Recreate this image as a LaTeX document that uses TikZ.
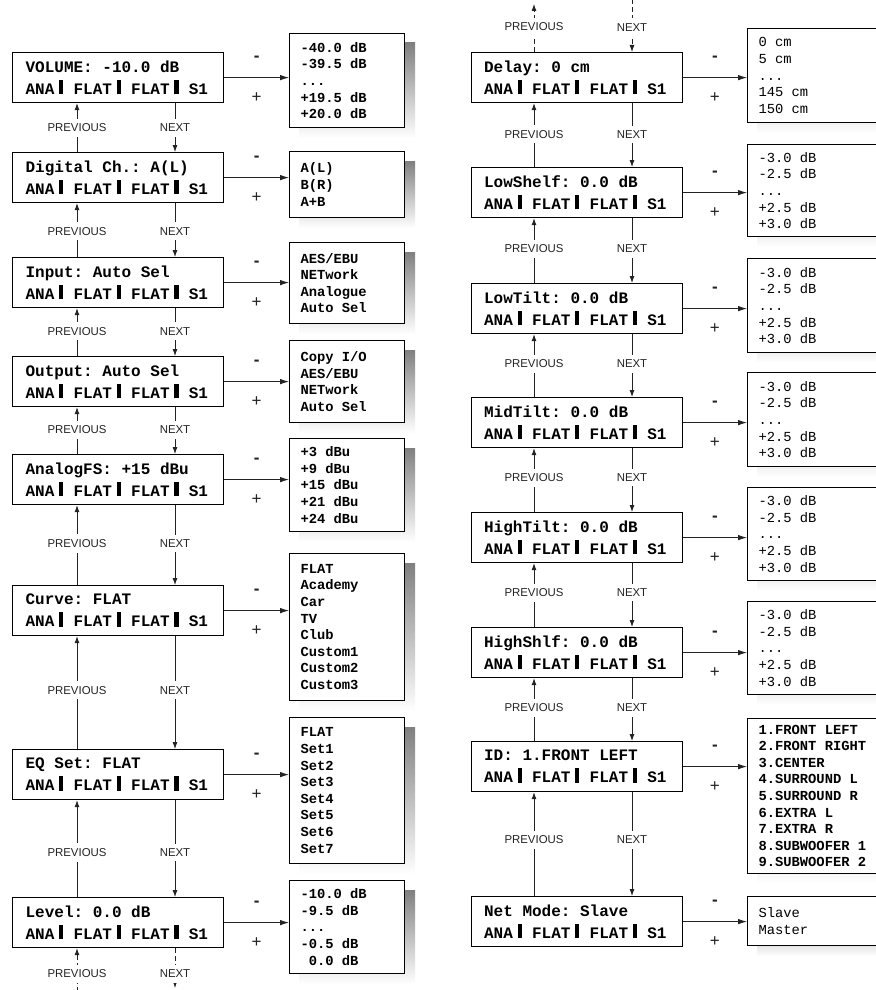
\documentclass[tikz,border=0pt]{standalone}
\usepackage{fontspec}
\usetikzlibrary{arrows.meta,backgrounds,calc}
\newfontfamily\lcdfont{Liberation Mono}[WordSpace={1,0,0},PunctuationSpace=WordSpace]
\newfontfamily\lblfont{Liberation Sans}
\newcommand\monospaces{\frenchspacing\spaceskip=0.6em\relax\xspaceskip=0.6em\relax}
\newcommand\lcdbar{\makebox[0.6em][r]{\rule{0.26em}{0.9em}\hspace{0.04em}}}
\newcommand\lcdline{ANA\lcdbar\ FLAT\lcdbar\ FLAT\lcdbar\ S1}
\definecolor{shade}{RGB}{224,224,224}
\definecolor{ink}{RGB}{35,35,35}
\begin{document}
\begin{tikzpicture}[x=1pt,y=-1pt,
  disp/.style={draw=black, line width=1.2pt, fill=white, anchor=north west,
    minimum width=211pt, minimum height=50pt, text width=185pt,
    inner xsep=13pt, inner ysep=0pt, align=left,
    font=\lcdfont\bfseries\fontsize{16}{22}\selectfont,
    execute at begin node=\monospaces},
  opt/.style={draw=black, line width=1pt, fill=white, anchor=north west,
    inner xsep=11pt, inner ysep=0pt, align=left,
    font=\lcdfont\fontsize{13.8}{16.6}\selectfont,
    execute at begin node=\monospaces},
  optL/.style={opt, minimum width=115pt, text width=93pt,
    font=\lcdfont\bfseries\fontsize{13.8}{16.6}\selectfont},
  optR/.style={opt, minimum width=145pt, text width=123pt},
  optRB/.style={optR, font=\lcdfont\bfseries\fontsize{13.8}{16.6}\selectfont},
  navlbl/.style={fill=white, inner xsep=1pt, inner ysep=5pt, text=ink,
    font=\lblfont\fontsize{11.4}{12}\selectfont},
  pm/.style={text=ink, inner sep=0pt, font=\lblfont\fontsize{17}{17}\selectfont},
  nav/.style={draw=ink, line width=0.8pt, -{Latex[length=7pt,width=5pt]}},
  hnav/.style={draw=ink, line width=0.8pt, -{Latex[length=9pt,width=5.5pt]}},
  dsh/.style={dash pattern=on 5pt off 3pt}
]
\useasboundingbox (0,0) rectangle (875,990);

% ---------- left column: displays ----------
\node[disp] (d1) at (12,52)  {VOLUME: -10.0 dB\\\lcdline};
\node[disp] (d2) at (12,152) {Digital Ch.: A(L)\\\lcdline};
\node[disp] (d3) at (12,257) {Input: Auto Sel\\\lcdline};
\node[disp] (d4) at (12,356) {Output: Auto Sel\\\lcdline};
\node[disp] (d5) at (12,454) {AnalogFS: +15 dBu\\\lcdline};
\node[disp] (d6) at (12,585) {Curve: FLAT\\\lcdline};
\node[disp] (d7) at (12,749) {EQ Set: FLAT\\\lcdline};
\node[disp] (d8) at (12,897) {Level: 0.0 dB\\\lcdline};

% ---------- left column: option lists ----------
\node[optL, minimum height=94pt]  (o1) at (289,33)  {-40.0 dB\\-39.5 dB\\...\\+19.5 dB\\+20.0 dB};
\node[optL, minimum height=66pt]  (o2) at (289,151) {A(L)\\B(R)\\A+B};
\node[optL, minimum height=81pt]  (o3) at (289,242) {AES/EBU\\NETwork\\Analogue\\Auto Sel};
\node[optL, minimum height=82pt]  (o4) at (289,340) {Copy I/O\\AES/EBU\\NETwork\\Auto Sel};
\node[optL, minimum height=93pt]  (o5) at (289,438) {+3 dBu\\+9 dBu\\+15 dBu\\+21 dBu\\+24 dBu};
\node[optL, minimum height=147pt] (o6) at (289,553) {FLAT\\Academy\\Car\\TV\\Club\\Custom1\\Custom2\\Custom3};
\node[optL, minimum height=146pt] (o7) at (289,717) {FLAT\\Set1\\Set2\\Set3\\Set4\\Set5\\Set6\\Set7};
\node[optL, minimum height=93pt]  (o8) at (289,880) {-10.0 dB\\-9.5 dB\\...\\-0.5 dB\\\hphantom{-}0.0 dB};

% ---------- right column: displays ----------
\node[disp] (r1) at (470.5,52)  {Delay: 0 cm\\\lcdline};
\node[disp] (r2) at (470.5,167) {LowShelf: 0.0 dB\\\lcdline};
\node[disp] (r3) at (470.5,283) {LowTilt: 0.0 dB\\\lcdline};
\node[disp] (r4) at (470.5,397) {MidTilt: 0.0 dB\\\lcdline};
\node[disp] (r5) at (470.5,512) {HighTilt: 0.0 dB\\\lcdline};
\node[disp] (r6) at (470.5,627) {HighShlf: 0.0 dB\\\lcdline};
\node[disp] (r7) at (470.5,741) {ID: 1.FRONT LEFT\\\lcdline};
\node[disp] (r8) at (470.5,896) {Net Mode: Slave\\\lcdline};

% ---------- right column: option lists ----------
\node[optR, minimum height=94pt]   (p1) at (747,28)  {0 cm\\5 cm\\...\\145 cm\\150 cm};
\node[optR, minimum height=92pt]   (p2) at (747,144) {-3.0 dB\\-2.5 dB\\...\\+2.5 dB\\+3.0 dB};
\node[optR, minimum height=94pt]   (p3) at (747,258) {-3.0 dB\\-2.5 dB\\...\\+2.5 dB\\+3.0 dB};
\node[optR, minimum height=94pt]   (p4) at (747,372) {-3.0 dB\\-2.5 dB\\...\\+2.5 dB\\+3.0 dB};
\node[optR, minimum height=93pt]   (p5) at (747,487) {-3.0 dB\\-2.5 dB\\...\\+2.5 dB\\+3.0 dB};
\node[optR, minimum height=93pt]   (p6) at (747,601) {-3.0 dB\\-2.5 dB\\...\\+2.5 dB\\+3.0 dB};
\node[optRB, minimum height=155pt] (p7) at (747,718) {1.FRONT LEFT\\2.FRONT RIGHT\\3.CENTER\\4.SURROUND L\\5.SURROUND R\\6.EXTRA L\\7.EXTRA R\\8.SUBWOOFER 1\\9.SUBWOOFER 2};
\node[optR, minimum height=49pt]   (p8) at (747,896) {Slave\\Master};

% ---------- shadows and page background ----------
\begin{scope}[on background layer]
  \fill[white] (0,0) rectangle (875,990);
  \foreach \n in {o1,o2,o3,o4,o5,o6,o7,o8,p1,p2,p3,p4,p5,p6,p7,p8}
    \fill[shade] ($(\n.north west)+(10,10)$) rectangle ($(\n.south east)+(10,10)$);
\end{scope}

% ---------- navigation columns ----------
\coordinate (LP) at (77,0);
\coordinate (LN) at (175,0);
\coordinate (RP) at (534,0);
\coordinate (RN) at (632,0);

\foreach \a/\b/\p in {d1/d2/0.5,d2/d3/0.52,d3/d4/0.48,d4/d5/0.48,d5/d6/0.48,d6/d7/0.48,d7/d8/0.54}{
  \pgfmathsetmacro\q{1-\p}
  \draw[nav] (LP |- \b.north) -- node[navlbl,pos=\q]{PREVIOUS} (LP |- \a.south);
  \draw[nav] (LN |- \a.south) -- node[navlbl,pos=\p]{NEXT} (LN |- \b.north);
}
\foreach \a/\b/\p in {r1/r2/0.49,r2/r3/0.47,r3/r4/0.47,r4/r5/0.46,r5/r6/0.46,r6/r7/0.47,r7/r8/0.46}{
  \pgfmathsetmacro\q{1-\p}
  \draw[nav] (RP |- \b.north) -- node[navlbl,pos=\q]{PREVIOUS} (RP |- \a.south);
  \draw[nav] (RN |- \a.south) -- node[navlbl,pos=\p]{NEXT} (RN |- \b.north);
}

% ---------- dashed continuations ----------
\coordinate (tp) at (534,4);
\coordinate (tn) at (632,-1);
\draw[nav,dsh] (RP |- r1.north) -- node[navlbl,pos=0.52]{PREVIOUS} (tp);
\draw[nav,dsh] (tn) -- node[navlbl,pos=0.53]{NEXT} (RN |- r1.north);
\coordinate (bp) at (77,992);
\coordinate (bn) at (175,988);
\draw[nav,dsh] (bp) -- node[navlbl,pos=0.41]{PREVIOUS} (LP |- d8.south);
\draw[nav,dsh] (LN |- d8.south) -- node[navlbl,pos=0.64]{NEXT} (bn);

% ---------- value arrows with - / + ----------
\foreach \d/\o in {d1/o1,d2/o2,d3/o3,d4/o4,d5/o5,d6/o6,d7/o7,d8/o8,r1/p1,r2/p2,r3/p3,r4/p4,r5/p5,r6/p6,r7/p7,r8/p8}{
  \draw[hnav] (\d.east) -- (\d.east -| \o.west);
  \path (\d.east) -- (\d.east -| \o.west)
    node[midway,yshift=19pt,pm]{\bfseries -}
    node[midway,yshift=-20pt,pm]{+};
}
\end{tikzpicture}
\end{document}
